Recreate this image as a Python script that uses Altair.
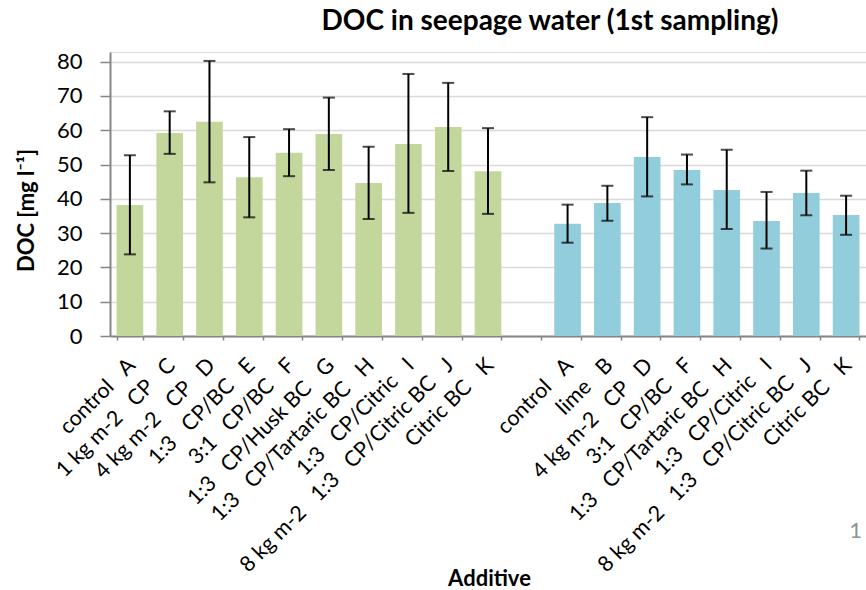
import json
import altair as alt
import pandas as pd

# ---- data ----
G = "\u00a0" * 3  # gap between label pieces

group1_keys = ["g1_A", "g1_C", "g1_D", "g1_E", "g1_F", "g1_G", "g1_H", "g1_I", "g1_J", "g1_K"]
group1_labels = [
    ["control", "A"],
    ["1 kg m-2", "CP", "C"],
    ["4 kg m-2", "CP", "D"],
    ["1:3", "CP/BC", "E"],
    ["3:1", "CP/BC", "F"],
    ["1:3", "CP/Husk BC", "G"],
    ["1:3", "CP/Tartaric BC", "H"],
    ["1:3", "CP/Citric", "I"],
    ["8 kg m-2", "1:3", "CP/Citric BC", "J"],
    ["Citric BC", "K"],
]
group1_mean = [38.2, 59.2, 62.5, 46.3, 53.4, 58.9, 44.6, 56.0, 60.9, 48.0]
group1_low = [23.8, 53.1, 44.8, 34.6, 46.6, 48.4, 34.1, 35.9, 48.1, 35.6]
group1_high = [52.7, 65.5, 80.2, 58.0, 60.3, 69.5, 55.2, 76.4, 73.8, 60.6]

group2_keys = ["g2_A", "g2_B", "g2_D", "g2_F", "g2_H", "g2_I", "g2_J", "g2_K"]
group2_labels = [
    ["control", "A"],
    ["lime", "B"],
    ["4 kg m-2", "CP", "D"],
    ["3:1", "CP/BC", "F"],
    ["1:3", "CP/Tartaric BC", "H"],
    ["1:3", "CP/Citric", "I"],
    ["8 kg m-2", "1:3", "CP/Citric BC", "J"],
    ["Citric BC", "K"],
]
group2_mean = [32.7, 38.8, 52.2, 48.4, 42.6, 33.5, 41.7, 35.3]
group2_low = [27.2, 33.6, 40.7, 44.2, 31.2, 25.5, 35.2, 29.5]
group2_high = [38.3, 43.8, 63.8, 52.9, 54.3, 42.0, 48.2, 40.9]

y_ticks = [0, 10, 20, 30, 40, 50, 60, 70, 80]

# ---- build table ----
rows = []
for k, m, lo, hi in zip(group1_keys, group1_mean, group1_low, group1_high):
    rows.append({"key": k, "value": m, "low": lo, "high": hi, "group": "g1"})
for k, m, lo, hi in zip(group2_keys, group2_mean, group2_low, group2_high):
    rows.append({"key": k, "value": m, "low": lo, "high": hi, "group": "g2"})
df = pd.DataFrame(rows)

domain_keys = group1_keys + ["gap"] + group2_keys
label_texts = [G.join(p) for p in group1_labels] + [""] + [G.join(p) for p in group2_labels]
label_expr = "%s[indexof(%s, datum.value)]" % (json.dumps(label_texts), json.dumps(domain_keys))

FONT = "Lato"
AXIS_GREY = "#868686"

x_axis = alt.Axis(
    title="Additive",
    titleFont=FONT, titleFontSize=22, titleFontWeight="bold", titleColor="#000000",
    titleX=379, titleY=249, titleBaseline="alphabetic", titleAlign="center",
    labelExpr=label_expr, labelAngle=315, labelAlign="right", labelBaseline="middle",
    labelFont=FONT, labelFontSize=21.5, labelColor="#000000",
    labelPadding=22, labelOffset=2, labelLimit=600, labelOverlap=False,
    tickBand="extent", tickSize=4, tickWidth=1.5, tickColor=AXIS_GREY,
    domainColor=AXIS_GREY, domainWidth=2, grid=False,
)
x_scale = alt.Scale(domain=domain_keys, paddingInner=0.33, paddingOuter=0.165)

y_axis = alt.Axis(
    title="DOC [mg l\u207b\u00b9]",
    titleFont=FONT, titleFontSize=22, titleFontWeight="bold", titleColor="#000000",
    titleAngle=270, titleX=-77, titleY=158, titleAlign="center", titleBaseline="alphabetic",
    values=y_ticks, labelFont=FONT, labelFontSize=22, labelColor="#000000",
    labelOverlap=False,
    labelPadding=18, tickSize=10, tickWidth=1.5, tickColor=AXIS_GREY,
    domainColor=AXIS_GREY, domainWidth=2,
    grid=True, gridColor="#d9d9d9", gridWidth=1.5,
)
y_scale = alt.Scale(domain=[0, 82.8], nice=False)


def xenc():
    return alt.X("key:N", scale=x_scale, sort=domain_keys, axis=x_axis)


bars = alt.Chart(df).mark_bar().encode(
    x=xenc(),
    y=alt.Y("value:Q", scale=y_scale, axis=y_axis),
    color=alt.Color("group:N", scale=alt.Scale(domain=["g1", "g2"], range=["#c3d69b", "#92cddc"]), legend=None),
)

err = alt.Chart(df).mark_rule(color="#000000", strokeWidth=2).encode(
    x=xenc(),
    y=alt.Y("low:Q", scale=y_scale, axis=y_axis),
    y2="high:Q",
)
cap_lo = alt.Chart(df).mark_tick(color="#000000", thickness=2, size=12).encode(
    x=xenc(), y=alt.Y("low:Q", scale=y_scale, axis=y_axis)
)
cap_hi = alt.Chart(df).mark_tick(color="#000000", thickness=2, size=12).encode(
    x=xenc(), y=alt.Y("high:Q", scale=y_scale, axis=y_axis)
)

page_no = alt.Chart(pd.DataFrame({"t": ["1"]})).mark_text(
    font=FONT, fontSize=22, color="#8a9497", align="right", baseline="alphabetic"
).encode(text="t:N", x=alt.value(752), y=alt.value(486))

chart = alt.layer(bars, err, cap_lo, cap_hi, page_no).properties(
    width=756,
    height=284,
    autosize=alt.AutoSizeParams(type="none"),
    padding={"left": 110, "top": 52, "right": 0, "bottom": 254},
    title=alt.TitleParams(
        "DOC in seepage water (1st sampling)",
        font=FONT, fontSize=28, fontWeight="bold", color="#000000",
        anchor="middle", dx=62, offset=-7, baseline="alphabetic", frame="group",
    ),
).configure_view(stroke=None).configure(background="#ffffff")

chart.save("out.html", embed_options={"renderer": "svg", "actions": False})
